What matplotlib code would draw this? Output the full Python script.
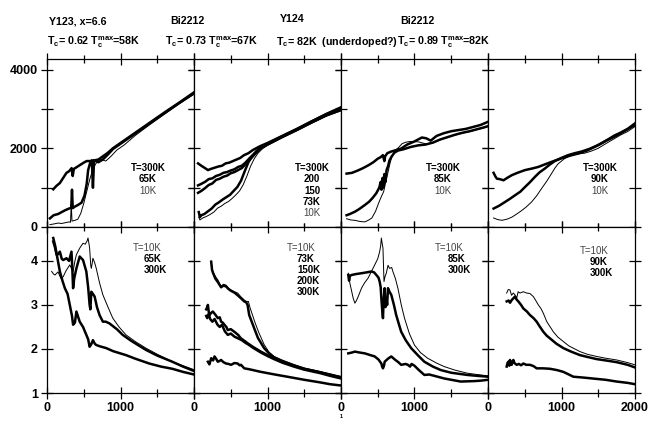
import matplotlib
matplotlib.use('Agg')
import matplotlib.pyplot as plt
from matplotlib.ticker import FixedLocator

# ---- top row: reflectivity-like data (0..4000) ----
a_top_300_x = [85, 130, 175, 220, 265, 300, 335, 350, 365, 400, 450, 500, 540, 600, 650, 700, 760, 820, 900, 1000, 1200, 1400, 1600, 1800, 2000]
a_top_300_y = [960, 1050, 1120, 1250, 1380, 1420, 1500, 1300, 1480, 1520, 1580, 1640, 1680, 1680, 1700, 1720, 1800, 1880, 2010, 2140, 2400, 2660, 2920, 3170, 3430]
a_top_65_x = [40, 90, 150, 200, 250, 300, 330, 340, 350, 380, 420, 470, 510, 540, 560, 585, 610, 625, 640, 700, 760, 830, 900, 1000, 1200, 1400, 1600, 1800, 2000]
a_top_65_y = [220, 300, 330, 380, 430, 470, 490, 950, 480, 520, 560, 620, 800, 1100, 1450, 1620, 1700, 1000, 1700, 1650, 1720, 1850, 1990, 2120, 2380, 2640, 2900, 3160, 3410]
a_top_10_x = [40, 100, 150, 200, 250, 300, 320, 330, 340, 380, 420, 460, 500, 540, 580, 620, 660, 700, 740, 800, 870, 950, 1050, 1200, 1400, 1600, 1800, 2000]
a_top_10_y = [60, 80, 100, 90, 110, 130, 120, 600, 150, 170, 200, 350, 600, 900, 1200, 1450, 1600, 1700, 1720, 1680, 1800, 1960, 2090, 2330, 2610, 2880, 3140, 3380]

b_top_300_x = [55, 100, 150, 190, 230, 280, 330, 380, 430, 480, 530, 580, 630, 680, 740, 800, 900, 1000, 1200, 1400, 1600, 1800, 2000]
b_top_300_y = [1620, 1560, 1500, 1450, 1480, 1510, 1540, 1560, 1620, 1640, 1680, 1720, 1760, 1830, 1880, 1960, 2060, 2140, 2320, 2500, 2690, 2880, 3050]
b_top_200_x = [55, 100, 150, 200, 250, 300, 350, 400, 450, 500, 550, 600, 650, 700, 760, 820, 900, 1000, 1200, 1400, 1600, 1800, 2000]
b_top_200_y = [1060, 1100, 1150, 1220, 1240, 1300, 1330, 1380, 1400, 1440, 1470, 1530, 1560, 1640, 1760, 1870, 2020, 2120, 2310, 2490, 2690, 2870, 3030]
b_top_150_x = [55, 100, 150, 200, 250, 300, 350, 400, 450, 500, 550, 600, 650, 700, 760, 820, 900, 1000, 1200, 1400, 1600, 1800, 2000]
b_top_150_y = [870, 920, 990, 1070, 1110, 1200, 1230, 1280, 1310, 1370, 1400, 1450, 1500, 1600, 1720, 1840, 2000, 2110, 2300, 2480, 2670, 2850, 3000]
b_top_73_x = [65, 80, 100, 140, 190, 240, 290, 340, 390, 440, 490, 540, 590, 640, 690, 740, 790, 850, 920, 1000, 1200, 1400, 1600, 1800, 2000]
b_top_73_y = [380, 250, 300, 330, 400, 470, 570, 630, 700, 760, 820, 920, 1020, 1180, 1420, 1650, 1800, 1930, 2030, 2100, 2290, 2470, 2660, 2840, 2980]
b_top_10_x = [65, 80, 120, 170, 220, 270, 320, 370, 420, 470, 520, 570, 620, 670, 720, 770, 820, 870, 930, 1000, 1200, 1400, 1600, 1800, 2000]
b_top_10_y = [250, 180, 230, 270, 320, 380, 480, 530, 600, 650, 730, 820, 920, 1080, 1300, 1550, 1740, 1880, 1990, 2080, 2280, 2460, 2650, 2830, 2960]

c_top_300_x = [76, 150, 230, 300, 370, 440, 500, 540, 570, 590, 600, 630, 680, 750, 820, 900, 1000, 1100, 1160, 1220, 1300, 1400, 1500, 1600, 1700, 1800, 1900, 2000]
c_top_300_y = [1360, 1380, 1440, 1500, 1570, 1650, 1740, 1780, 1830, 1680, 1800, 1880, 1920, 1960, 2000, 2100, 2180, 2280, 2260, 2200, 2320, 2390, 2440, 2470, 2500, 2550, 2600, 2680]
c_top_85_x = [76, 120, 190, 250, 324, 380, 430, 480, 520, 540, 550, 565, 575, 590, 605, 620, 640, 660, 690, 730, 780, 850, 950, 1050, 1150, 1250, 1350, 1450, 1550, 1650, 1750, 1850, 1950, 2000]
c_top_85_y = [300, 330, 390, 460, 560, 640, 740, 860, 1000, 1150, 950, 1250, 1000, 1350, 1150, 1450, 1550, 1700, 1800, 1900, 1950, 1980, 2040, 2080, 2100, 2150, 2230, 2290, 2350, 2400, 2440, 2490, 2540, 2570]
c_top_10_x = [76, 130, 190, 260, 324, 380, 420, 470, 510, 550, 580, 610, 640, 670, 700, 740, 780, 830, 880, 950, 1050, 1150, 1250, 1350, 1450, 1550, 1650, 1750, 1850, 1950, 2000]
c_top_10_y = [210, 180, 170, 140, 130, 180, 230, 400, 600, 780, 900, 1150, 1400, 1650, 1830, 1950, 2020, 2120, 2160, 2180, 2170, 2120, 2140, 2220, 2280, 2340, 2390, 2430, 2480, 2530, 2560]

d_top_300_x = [76, 100, 121, 160, 211, 260, 324, 400, 504, 600, 684, 780, 865, 1000, 1100, 1224, 1350, 1449, 1550, 1650, 1719, 1800, 1900, 2000]
d_top_300_y = [1380, 1290, 1230, 1220, 1190, 1250, 1320, 1380, 1450, 1490, 1530, 1600, 1660, 1750, 1810, 1870, 1950, 2040, 2140, 2250, 2330, 2400, 2500, 2640]
d_top_90_x = [76, 150, 234, 300, 369, 440, 504, 570, 640, 700, 774, 840, 909, 1000, 1089, 1180, 1269, 1380, 1494, 1600, 1719, 1800, 1899, 2000]
d_top_90_y = [470, 540, 640, 720, 810, 900, 1020, 1140, 1280, 1390, 1490, 1590, 1680, 1760, 1830, 1880, 1920, 1990, 2080, 2190, 2300, 2380, 2490, 2600]
d_top_10_x = [76, 130, 190, 260, 324, 390, 459, 520, 594, 660, 729, 800, 864, 910, 954, 1040, 1134, 1220, 1314, 1400, 1494, 1600, 1719, 1800, 1899, 2000]
d_top_10_y = [230, 190, 170, 200, 250, 330, 420, 510, 640, 790, 980, 1170, 1360, 1500, 1610, 1740, 1830, 1860, 1880, 1930, 2000, 2120, 2250, 2340, 2430, 2560]

# ---- bottom row (1..4.8) ----
a_bot_10_x = [63, 90, 108, 150, 190, 220, 260, 310, 340, 355, 380, 400, 445, 490, 520, 545, 558, 570, 580, 595, 603, 615, 625, 650, 670, 715, 760, 830, 895, 980, 1075, 1200, 1345, 1500, 1705, 1850, 2000]
a_bot_10_y = [3.76, 3.70, 3.68, 3.75, 3.60, 3.64, 3.78, 3.91, 3.80, 3.76, 4.00, 4.14, 4.29, 4.40, 4.38, 4.45, 4.52, 4.40, 4.29, 3.90, 3.83, 3.95, 4.06, 3.95, 3.83, 3.50, 3.23, 2.95, 2.70, 2.50, 2.32, 2.17, 2.02, 1.88, 1.71, 1.62, 1.53]
a_bot_65_x = [85, 110, 130, 150, 175, 200, 220, 265, 300, 333, 345, 355, 370, 400, 445, 490, 535, 560, 580, 590, 603, 625, 648, 680, 715, 760, 800, 850, 950, 1030, 1150, 1345, 1500, 1705, 1850, 2000]
a_bot_65_y = [4.44, 4.30, 4.14, 4.15, 4.21, 4.05, 4.02, 4.06, 4.00, 4.21, 3.80, 3.38, 3.60, 3.83, 4.10, 4.02, 3.76, 3.40, 3.00, 2.90, 3.30, 3.25, 3.19, 2.95, 2.77, 2.62, 2.62, 2.58, 2.45, 2.32, 2.18, 1.98, 1.85, 1.71, 1.60, 1.50]
a_bot_300_x = [85, 110, 130, 175, 210, 243, 280, 310, 340, 355, 380, 400, 445, 490, 535, 560, 580, 600, 625, 650, 670, 720, 805, 900, 1075, 1200, 1390, 1550, 1705, 1850, 2000]
a_bot_300_y = [4.52, 4.35, 4.17, 3.76, 3.55, 3.38, 3.25, 3.00, 2.75, 2.55, 2.60, 2.85, 2.62, 2.50, 2.32, 2.22, 2.05, 2.10, 2.20, 2.12, 2.09, 2.06, 2.02, 1.95, 1.86, 1.78, 1.67, 1.60, 1.55, 1.48, 1.42]

b_bot_10_x = [234, 245, 256, 290, 324, 350, 369, 400, 436, 470, 504, 550, 594, 640, 684, 710, 740, 760, 790, 830, 880, 954, 1020, 1089, 1200, 1359, 1500, 1719, 1850, 2000]
b_bot_10_y = [4.00, 3.85, 3.76, 3.65, 3.57, 3.48, 3.42, 3.47, 3.45, 3.38, 3.34, 3.30, 3.27, 3.18, 3.11, 3.08, 3.08, 2.95, 2.80, 2.60, 2.38, 2.10, 1.93, 1.83, 1.74, 1.64, 1.56, 1.48, 1.43, 1.37]
b_bot_73_x = [234, 245, 256, 290, 324, 350, 369, 400, 436, 470, 504, 550, 594, 640, 684, 710, 729, 751, 790, 819, 870, 954, 1020, 1089, 1200, 1359, 1500, 1719, 1850, 2000]
b_bot_73_y = [3.98, 3.80, 3.74, 3.60, 3.52, 3.45, 3.40, 3.44, 3.42, 3.36, 3.32, 3.28, 3.22, 3.15, 3.08, 3.06, 3.00, 2.77, 2.60, 2.47, 2.25, 2.02, 1.90, 1.81, 1.73, 1.63, 1.55, 1.47, 1.42, 1.36]
b_bot_150_x = [166, 180, 189, 200, 211, 234, 256, 290, 324, 350, 369, 390, 414, 440, 459, 500, 549, 600, 639, 690, 729, 800, 909, 1000, 1089, 1200, 1359, 1500, 1719, 1850, 2000]
b_bot_150_y = [2.90, 2.95, 3.00, 2.85, 2.77, 2.82, 2.85, 2.78, 2.70, 2.72, 2.62, 2.60, 2.55, 2.50, 2.43, 2.45, 2.39, 2.32, 2.24, 2.18, 2.13, 2.05, 1.94, 1.86, 1.79, 1.71, 1.62, 1.55, 1.47, 1.41, 1.35]
b_bot_200_x = [166, 180, 200, 220, 250, 280, 320, 350, 380, 420, 460, 500, 550, 600, 650, 700, 740, 800, 909, 1000, 1089, 1200, 1359, 1500, 1719, 1850, 2000]
b_bot_200_y = [2.75, 2.70, 2.80, 2.68, 2.62, 2.68, 2.55, 2.50, 2.55, 2.40, 2.32, 2.35, 2.28, 2.24, 2.20, 2.14, 2.10, 2.03, 1.92, 1.84, 1.77, 1.69, 1.60, 1.53, 1.45, 1.39, 1.33]
b_bot_300_x = [189, 210, 234, 260, 279, 300, 324, 350, 369, 400, 436, 470, 504, 550, 594, 620, 639, 684, 750, 909, 1100, 1269, 1500, 1719, 1850, 2000]
b_bot_300_y = [1.71, 1.65, 1.79, 1.74, 1.83, 1.78, 1.71, 1.73, 1.75, 1.70, 1.67, 1.66, 1.64, 1.68, 1.67, 1.63, 1.64, 1.56, 1.54, 1.48, 1.42, 1.37, 1.30, 1.24, 1.20, 1.17]

c_bot_10_x = [99, 110, 121, 140, 166, 189, 210, 234, 260, 279, 320, 369, 420, 459, 500, 526, 540, 549, 560, 571, 580, 585, 600, 616, 640, 661, 690, 706, 740, 774, 820, 864, 930, 999, 1080, 1179, 1300, 1404, 1550, 1719, 1850, 2000]
c_bot_10_y = [3.72, 3.60, 3.49, 3.35, 3.15, 3.04, 3.10, 3.19, 3.30, 3.38, 3.50, 3.61, 3.78, 3.91, 4.05, 4.21, 4.35, 4.52, 4.40, 4.29, 3.80, 3.53, 3.65, 3.72, 3.90, 3.83, 3.85, 3.76, 3.60, 3.38, 3.00, 2.70, 2.35, 2.09, 1.92, 1.79, 1.68, 1.60, 1.52, 1.45, 1.42, 1.39]
c_bot_85_x = [99, 110, 121, 144, 200, 279, 350, 414, 450, 481, 510, 526, 540, 549, 560, 571, 580, 594, 605, 616, 628, 639, 660, 684, 720, 751, 790, 819, 880, 954, 1050, 1134, 1250, 1359, 1500, 1719, 1850, 2000]
c_bot_85_y = [3.68, 3.55, 3.66, 3.68, 3.70, 3.72, 3.74, 3.76, 3.74, 3.68, 3.62, 3.53, 3.40, 3.15, 2.90, 2.70, 3.10, 3.38, 2.95, 3.15, 3.00, 3.38, 3.30, 3.23, 3.00, 2.77, 2.55, 2.39, 2.20, 2.02, 1.85, 1.71, 1.60, 1.52, 1.46, 1.41, 1.39, 1.37]
c_bot_300_x = [99, 150, 189, 250, 324, 400, 459, 510, 549, 560, 571, 585, 594, 640, 684, 740, 780, 819, 880, 909, 940, 960, 999, 1060, 1134, 1200, 1269, 1404, 1500, 1629, 1809, 1900, 2000]
c_bot_300_y = [1.90, 1.92, 1.94, 1.92, 1.90, 1.86, 1.83, 1.76, 1.67, 1.60, 1.56, 1.62, 1.71, 1.78, 1.83, 1.75, 1.70, 1.64, 1.66, 1.64, 1.60, 1.66, 1.62, 1.52, 1.41, 1.42, 1.39, 1.33, 1.30, 1.26, 1.27, 1.28, 1.30]

d_bot_10_x = [254, 275, 299, 320, 345, 370, 390, 410, 435, 480, 526, 570, 617, 650, 685, 720, 753, 800, 889, 950, 1025, 1100, 1252, 1350, 1478, 1600, 1751, 1900, 2000]
d_bot_10_y = [3.27, 3.35, 3.34, 3.22, 3.27, 3.22, 3.15, 3.30, 3.27, 3.30, 3.27, 3.26, 3.19, 3.10, 3.00, 2.92, 2.81, 2.62, 2.39, 2.27, 2.17, 2.07, 1.94, 1.88, 1.83, 1.79, 1.75, 1.69, 1.64]
d_bot_90_x = [254, 280, 300, 322, 345, 367, 390, 413, 450, 481, 530, 571, 620, 662, 700, 753, 800, 844, 930, 1025, 1130, 1252, 1350, 1478, 1600, 1751, 1900, 2000]
d_bot_90_y = [3.08, 3.10, 3.05, 3.11, 3.15, 3.19, 3.12, 3.08, 3.00, 2.92, 2.85, 2.77, 2.70, 2.62, 2.52, 2.39, 2.30, 2.24, 2.12, 2.02, 1.94, 1.86, 1.82, 1.77, 1.74, 1.70, 1.64, 1.58]
d_bot_300_x = [254, 265, 277, 290, 299, 310, 322, 335, 345, 360, 390, 420, 450, 481, 520, 571, 620, 662, 750, 844, 940, 1025, 1100, 1161, 1300, 1478, 1600, 1751, 1900, 2000]
d_bot_300_y = [1.60, 1.68, 1.71, 1.62, 1.75, 1.66, 1.64, 1.72, 1.75, 1.68, 1.64, 1.66, 1.63, 1.67, 1.64, 1.64, 1.61, 1.56, 1.56, 1.55, 1.52, 1.48, 1.42, 1.37, 1.35, 1.32, 1.30, 1.26, 1.23, 1.20]

titles_1 = ['Y123, x=6.6', 'Bi2212', 'Y124', 'Bi2212']
titles_2 = [r'T$_\mathregular{c}$= 0.62 T$_\mathregular{c}^\mathregular{max}$=58K',
            r'T$_\mathregular{c}$= 0.73 T$_\mathregular{c}^\mathregular{max}$=67K',
            r'T$_\mathregular{c}$= 82K  (underdoped?)',
            r'T$_\mathregular{c}$= 0.89 T$_\mathregular{c}^\mathregular{max}$=82K']

top_labels = [['T=300K', '65K', '10K'],
              ['T=300K', '200', '150', '73K', '10K'],
              ['T=300K', '85K', '10K'],
              ['T=300K', '90K', '10K']]
bot_labels = [['T=10K', '65K', '300K'],
              ['T=10K', '73K', '150K', '200K', '300K'],
              ['T=10K', '85K', '300K'],
              ['T=10K', '90K', '300K']]

THICK = 1.8
THIN = 0.7

top_curves = [
    [(a_top_300_x, a_top_300_y, THICK), (a_top_65_x, a_top_65_y, THICK), (a_top_10_x, a_top_10_y, THIN)],
    [(b_top_300_x, b_top_300_y, THICK), (b_top_200_x, b_top_200_y, THICK), (b_top_150_x, b_top_150_y, THICK),
     (b_top_73_x, b_top_73_y, THICK), (b_top_10_x, b_top_10_y, THIN)],
    [(c_top_300_x, c_top_300_y, THICK), (c_top_85_x, c_top_85_y, THICK), (c_top_10_x, c_top_10_y, THIN)],
    [(d_top_300_x, d_top_300_y, THICK), (d_top_90_x, d_top_90_y, THICK), (d_top_10_x, d_top_10_y, THIN)],
]
bot_curves = [
    [(a_bot_10_x, a_bot_10_y, THIN), (a_bot_65_x, a_bot_65_y, THICK), (a_bot_300_x, a_bot_300_y, THICK)],
    [(b_bot_10_x, b_bot_10_y, THIN), (b_bot_73_x, b_bot_73_y, THICK), (b_bot_150_x, b_bot_150_y, THICK),
     (b_bot_200_x, b_bot_200_y, THICK), (b_bot_300_x, b_bot_300_y, THICK)],
    [(c_bot_10_x, c_bot_10_y, THIN), (c_bot_85_x, c_bot_85_y, THICK), (c_bot_300_x, c_bot_300_y, THICK)],
    [(d_bot_10_x, d_bot_10_y, THIN), (d_bot_90_x, d_bot_90_y, THICK), (d_bot_300_x, d_bot_300_y, THICK)],
]

plt.rcParams['font.family'] = ['Liberation Sans', 'DejaVu Sans']
plt.rcParams['font.weight'] = 'bold'

W, H = 664.0, 422.0
fig = plt.figure(figsize=(6.64, 4.22), dpi=100)

panel_left = [47, 194, 341, 488]
title1_pos = [(49, 21), (170, 21), (280, 19), (400, 21)]
title2_pos = [(47, 42), (165, 42), (276, 42), (397, 42)]
top_lab_x = [1374, 1605, 1388, 1524]
bot_lab_x = [(1170, 1320), (1265, 1401), (1279, 1456), (1252, 1388)]
bot_lab_y0 = [4.30, 4.30, 4.30, 4.23]

def style_axes(ax):
    for s in ax.spines.values():
        s.set_linewidth(0.9)
    ax.tick_params(which='both', direction='inout', top=True, right=True,
                   width=0.9, labelsize=9, pad=2)
    ax.tick_params(which='major', length=9)
    ax.tick_params(which='minor', length=6)

for i in range(4):
    x0 = panel_left[i] / W
    axt = fig.add_axes([x0, 1 - 227 / H, 147 / W, 168 / H])
    axb = fig.add_axes([x0, 1 - 393 / H, 147 / W, 166 / H])

    for x, y, lw in top_curves[i]:
        axt.plot(x, y, color='black', lw=lw)
    for x, y, lw in bot_curves[i]:
        axb.plot(x, y, color='black', lw=lw)

    for ax in (axt, axb):
        style_axes(ax)
        ax.xaxis.set_major_locator(FixedLocator([0, 1000, 2000]))
        ax.xaxis.set_minor_locator(FixedLocator([500, 1500]))
        ax.set_xlim(0, 2000)
    axt.set_ylim(0, 4280)
    axb.set_ylim(1, 4.77)

    axt.yaxis.set_major_locator(FixedLocator([0, 1000, 2000, 3000, 4000]))
    axb.yaxis.set_major_locator(FixedLocator([1, 2, 3, 4]))
    axt.set_xticklabels([])
    if i == 0:
        axt.set_yticklabels(['0', '', '2000', '', '4000'])
        axb.set_yticklabels(['1', '2', '3', '4'])
    else:
        axt.set_yticklabels([])
        axb.set_yticklabels([])
    if i == 3:
        axb.set_xticklabels(['0', '1000', '2000'])
    else:
        axb.set_xticklabels(['0', '1000', ''])

    # legends written inside the panels
    labs = top_labels[i]
    for k, t in enumerate(labs):
        last = k == len(labs) - 1
        axt.text(top_lab_x[i], 1505 - k * 290, t, ha='center', va='center',
                 fontsize=7, fontweight='normal' if last else 'bold',
                 color='#444444' if last else 'black')
    labs = bot_labels[i]
    for k, t in enumerate(labs):
        first = k == 0
        axb.text(bot_lab_x[i][0] if first else bot_lab_x[i][1],
                 bot_lab_y0[i] - k * 0.25, t, ha='left', va='center',
                 fontsize=7, fontweight='normal' if first else 'bold',
                 color='#444444' if first else 'black')

    fig.text(title1_pos[i][0] / W, 1 - title1_pos[i][1] / H, titles_1[i],
             ha='left', va='center', fontsize=7.7, fontweight='bold')
    fig.text(title2_pos[i][0] / W, 1 - title2_pos[i][1] / H, titles_2[i],
             ha='left', va='center', fontsize=7.7, fontweight='bold')

fig.text(341 / W, 1 - 416 / H, '1', ha='center', va='center', fontsize=4)

fig.savefig('out.png', dpi=100)
